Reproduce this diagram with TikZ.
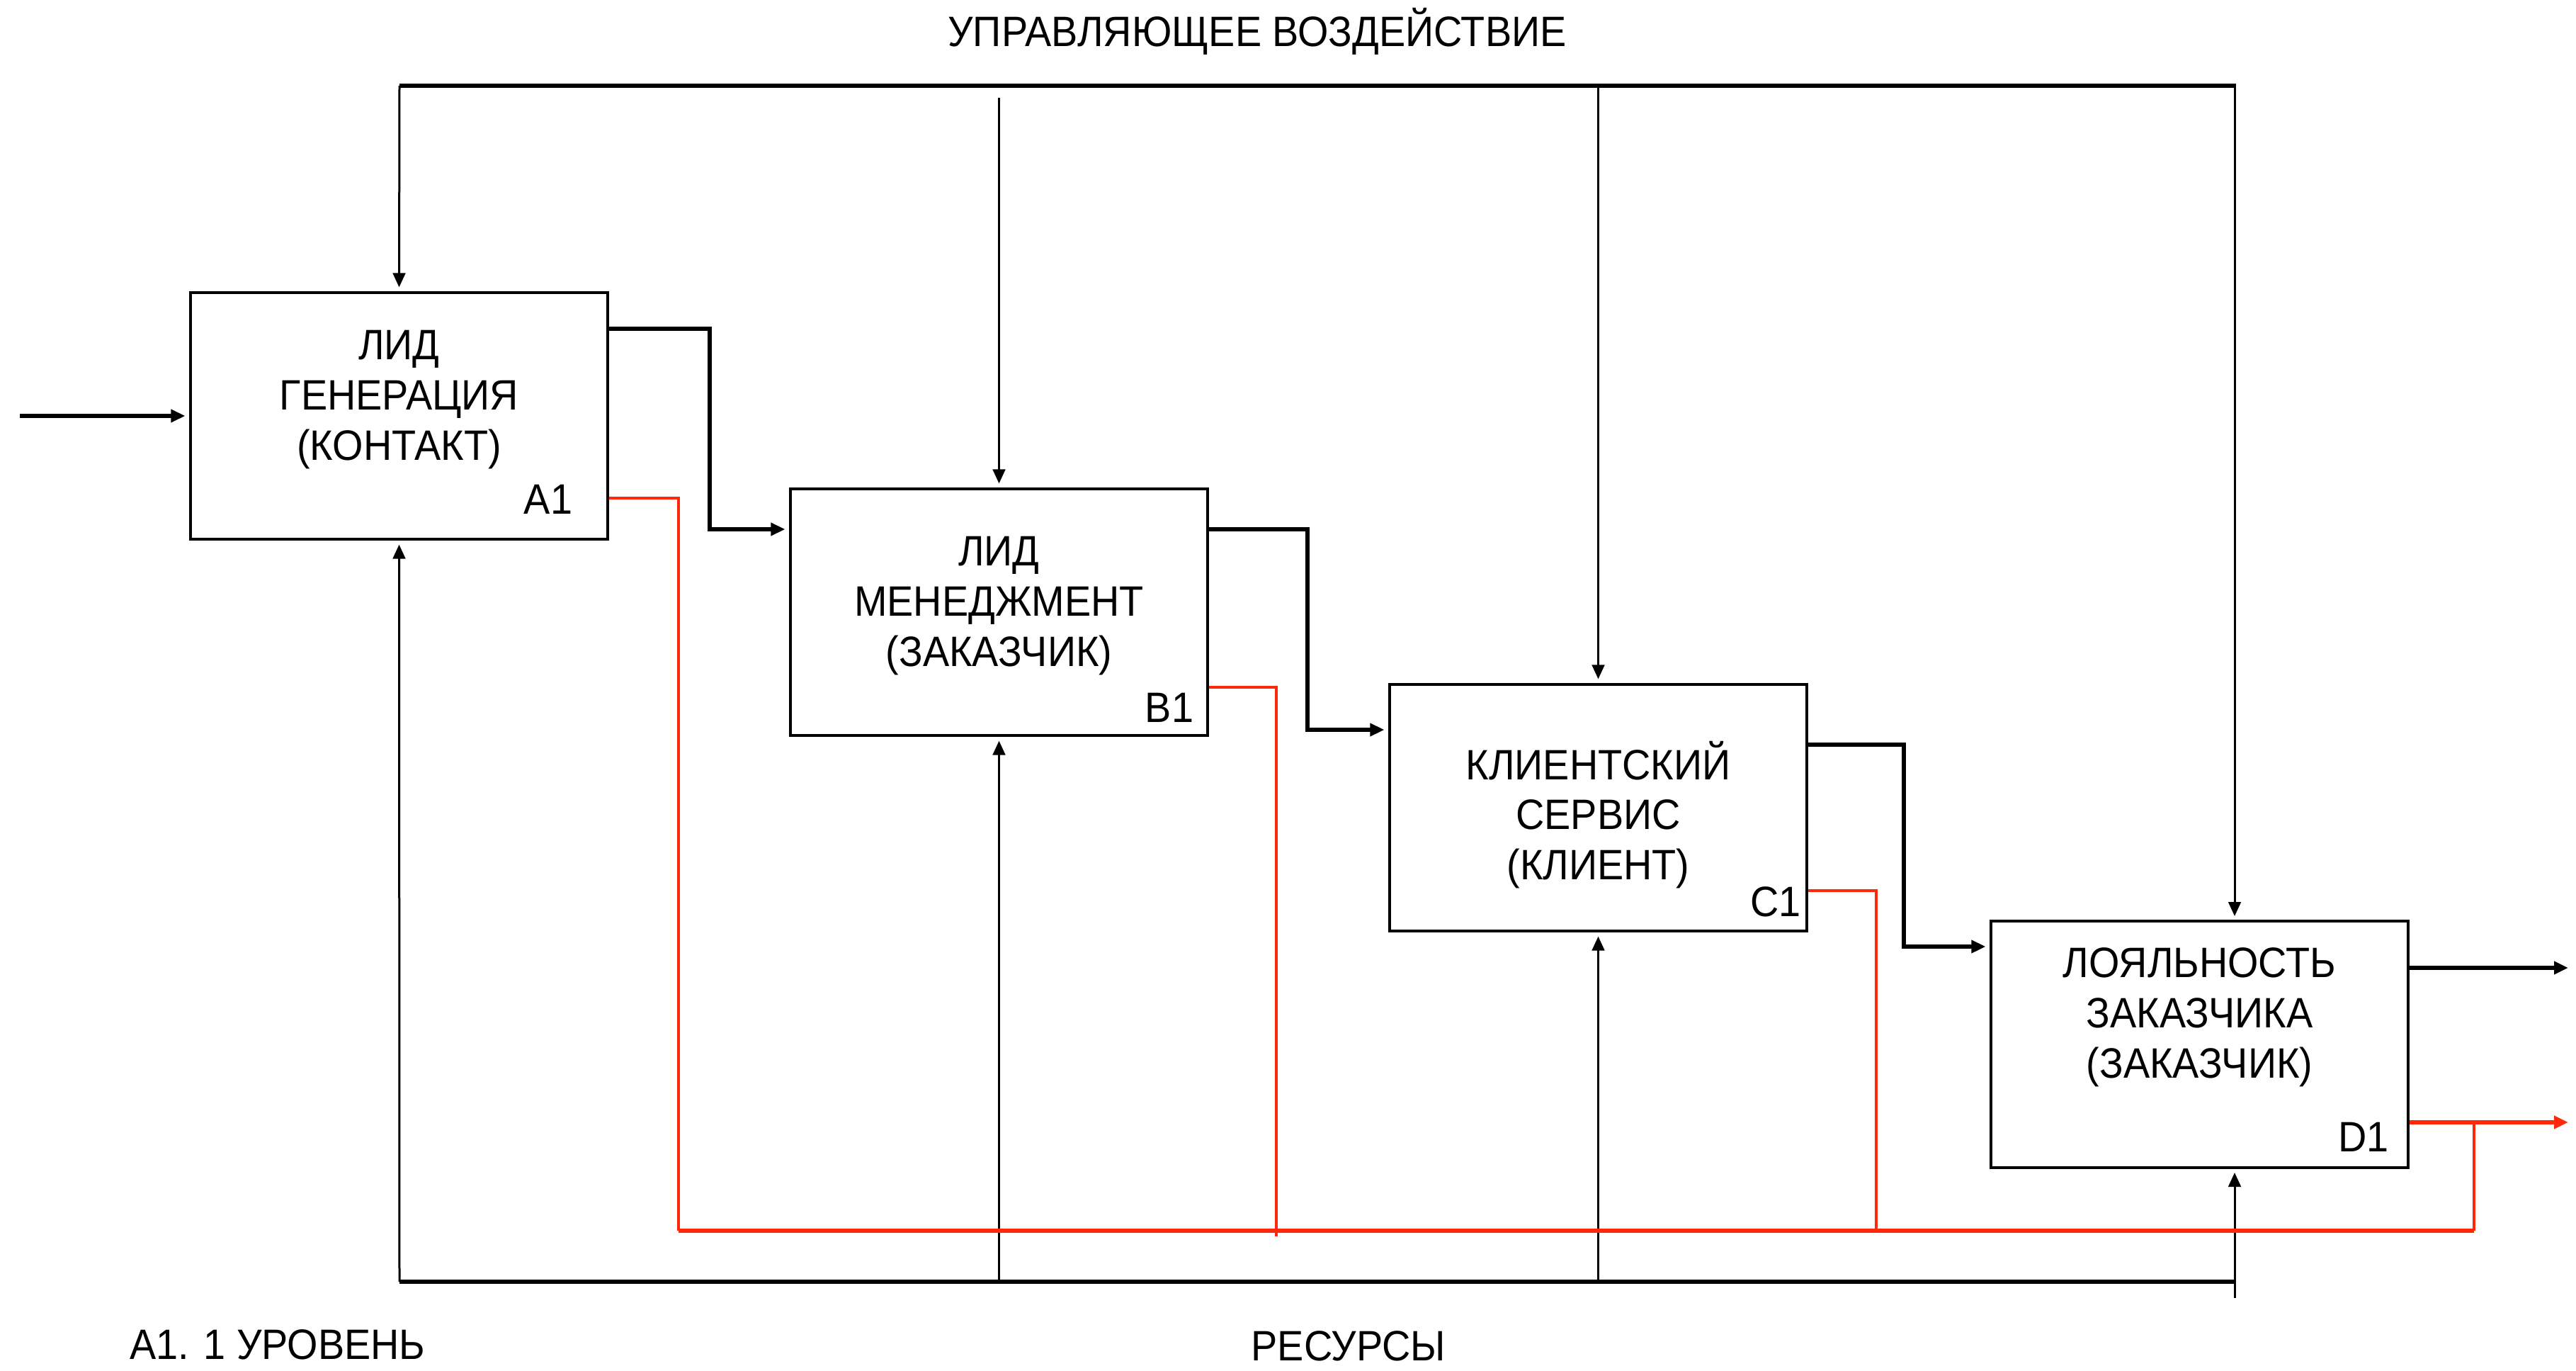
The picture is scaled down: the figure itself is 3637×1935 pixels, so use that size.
\documentclass[tikz,border=0pt]{standalone}
\usepackage{fontspec}
\setmainfont{Liberation Sans}[FakeStretch=0.93]
\usetikzlibrary{arrows.meta}
\definecolor{fbred}{RGB}{255,40,10}
\begin{document}
\begin{tikzpicture}[x=0.25pt,y=-0.25pt,
  proc/.style={draw, line width=0.8pt, minimum width=147.25pt, minimum height=87pt, inner sep=0pt},
  btext/.style={align=center, font=\fontsize{15}{17.7}\selectfont, inner sep=0pt},
  lbl/.style={font=\fontsize{15}{17.7}\selectfont, inner sep=0pt},
  tip/.style={-{Triangle[length=5pt,width=4.4pt]}, shorten >=1.5pt},
  flow/.style={line width=1.5pt},
  bus/.style={line width=1.5pt},
  ctl/.style={line width=0.75pt},
  fb/.style={draw=fbred, line width=1.4pt},
  fbv/.style={draw=fbred, line width=0.9pt}]
\useasboundingbox (0,0) rectangle (3637,1935);

% boxes
\node[proc] (A) at (563.5,587) {};
\node[proc] (B) at (1410.5,864) {};
\node[proc] (C) at (2256.5,1140) {};
\node[proc] (D) at (3105.5,1474) {};

\node[btext] (At) at (563.5,564) {ЛИД\\ГЕНЕРАЦИЯ\\(КОНТАКТ)};
\node[btext] (Bt) at (1410.5,855) {ЛИД\\МЕНЕДЖМЕНТ\\(ЗАКАЗЧИК)};
\node[btext] (Ct) at (2256.5,1150) {КЛИЕНТСКИЙ\\СЕРВИС\\(КЛИЕНТ)};
\node[btext] (Dt) at (3105.5,1436) {ЛОЯЛЬНОСТЬ\\ЗАКАЗЧИКА\\(ЗАКАЗЧИК)};

\node[lbl] (Al) at (774,705) {A1};
\node[lbl] (Bl) at (1651,999) {B1};
\node[lbl] (Cl) at (2507,1273) {C1};
\node[lbl] (Dl) at (3337,1605) {D1};

% titles
\node[lbl] (top) at (1775,44) {УПРАВЛЯЮЩЕЕ ВОЗДЕЙСТВИЕ};
\node[lbl] (res) at (1904,1900) {РЕСУРСЫ};
\node[lbl] (lev) at (392,1898) {A1. 1 УРОВЕНЬ};

% coordinates
\coordinate (in0) at (28,587);
\coordinate (ct0) at (564,121);
\coordinate (ct1) at (3157,121);
\coordinate (rs0) at (564,1809);
\coordinate (rs1) at (3157,1809);
\coordinate (dout) at (3632,1366);
\coordinate (dfb) at (3632,1584);

% control bus
\draw[bus] (ct0) -- (ct1);
\draw[ctl,tip] (ct0) -- (A.north);
\draw[ctl,tip] (B.north |- 0,138) -- (B.north);
\draw[ctl,tip] (C.north |- ct0) -- (C.north);
\draw[ctl,tip] (3155,121) -- (3155,1299);

% resources bus
\draw[bus] (rs0) -- (rs1);
\draw[ctl,tip] (rs0) -- (A.south);
\draw[ctl,tip] (B.south |- rs0) -- (B.south);
\draw[ctl,tip] (C.south |- rs0) -- (C.south);
\draw[ctl,tip] (3155,1832) -- (3155,1649);

% input / outputs
\draw[flow,tip] (in0) -- (A.west);
\draw[flow,tip] (A.east |- 0,464) -- (1002,464) -- (1002,747) -- (B.west |- 0,747);
\draw[flow,tip] (B.east |- 0,747) -- (1846,747) -- (1846,1030) -- (C.west |- 0,1030);
\draw[flow,tip] (C.east |- 0,1051) -- (2688,1051) -- (2688,1336) -- (D.west |- 0,1336);
\draw[flow,tip] (D.east |- dout) -- (dout);

% feedback (red)
\draw[fbv] (A.east |- 0,703) -- (958,703) -- (958,1737);
\draw[fbv] (B.east |- 0,970) -- (1802,970) -- (1802,1745);
\draw[fbv] (C.east |- 0,1257) -- (2649,1257) -- (2649,1737);
\draw[fb] (958,1737) -- (3493,1737);
\draw[fbv] (3493,1737) -- (3493,1584);
\draw[fb,tip,fbred] (D.east |- dfb) -- (dfb);
\end{tikzpicture}
\end{document}
